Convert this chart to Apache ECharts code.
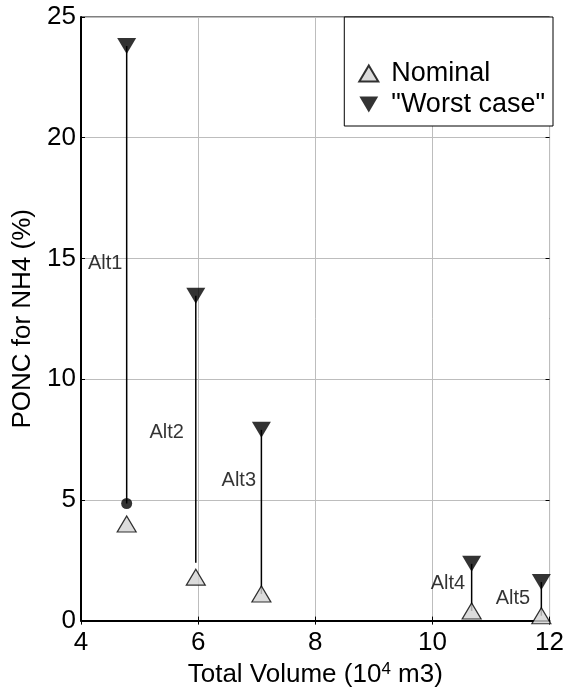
<!DOCTYPE html>
<html><head><meta charset="utf-8">
<script src="https://cdn.jsdelivr.net/npm/echarts@6/dist/echarts.min.js"></script>
<style>html,body{margin:0;padding:0;background:#fff}#c{width:567px;height:693px}</style>
</head><body><div id="c"></div>
<script>
const alts = ['Alt1','Alt2','Alt3','Alt4','Alt5'];
const volume = [4.78, 5.96, 7.08, 10.67, 11.86];
const nominal = [4.0, 1.8, 1.1, 0.4, 0.2];
const worstCase = [23.8, 13.45, 7.9, 2.35, 1.6];
const lineBottom = [4.85, 2.4, 1.1, 0.4, 0.2];
const dotPoint = [[4.78, 4.85]];
const labelX = [4.12, 5.17, 6.40, 9.97, 11.08];
const labelY = [14.8, 7.8, 5.8, 1.55, 0.9];
const xTicks = [4, 6, 8, 10, 12];
const yTicks = [0, 5, 10, 15, 20, 25];

const font = 'Liberation Sans, Arial, Helvetica, sans-serif';
const chart = echarts.init(document.getElementById('c'));
const invTri = 'path://M0,0 L20,0 L10,17 Z';

chart.setOption({
  animation: false,
  backgroundColor: '#fff',
  textStyle: { fontFamily: font },
  grid: { left: 81, right: 16, top: 17, bottom: 72, show: true, borderColor: '#000', borderWidth: 1, backgroundColor: 'transparent' },
  legend: {
    right: 14, top: 17, orient: 'vertical',
    backgroundColor: '#fff', borderColor: '#000', borderWidth: 1,
    padding: [43, 8, 8, 14], itemGap: 4, itemWidth: 19, itemHeight: 16,
    textStyle: { fontSize: 27, lineHeight: 27, color: '#000', fontFamily: font, padding: [0, 0, 0, 8] },
    data: [
      { name: 'Nominal', icon: 'triangle' },
      { name: '"Worst case"', icon: invTri }
    ]
  },
  xAxis: [{
    type: 'value', min: xTicks[0], max: xTicks[xTicks.length-1], interval: 2,
    name: 'Total Volume (10{sup|4} m3)', nameLocation: 'middle', nameGap: 38,
    nameTextStyle: { fontSize: 26, color: '#000', fontFamily: font, rich: { sup: { fontSize: 17, verticalAlign: 'top', padding: [0,0,12,0], color: '#000', fontFamily: font } } },
    axisLine: { show: true, onZero: false, lineStyle: { color: '#000', width: 2 } },
    axisTick: { show: true, inside: true, length: 4, lineStyle: { color: '#000' } },
    axisLabel: { fontSize: 26, color: '#000', margin: 9, fontFamily: font },
    splitLine: { show: true, lineStyle: { color: '#bdbdbd', width: 1 } }
  }, {
    type: 'value', position: 'top', min: 4, max: 12, interval: 2,
    axisLine: { show: false }, axisTick: { show: true, inside: true, length: 4, lineStyle: { color: '#000' } },
    axisLabel: { show: false }, splitLine: { show: false }
  }],
  yAxis: [{
    type: 'value', min: yTicks[0], max: yTicks[yTicks.length-1], interval: 5,
    name: 'PONC for NH4 (%)', nameLocation: 'middle', nameGap: 40,
    nameTextStyle: { fontSize: 26, color: '#000', fontFamily: font },
    axisLine: { show: true, onZero: false, lineStyle: { color: '#000', width: 2 } },
    axisTick: { show: true, inside: true, length: 4, lineStyle: { color: '#000' } },
    axisLabel: { fontSize: 26, color: '#000', margin: 5, fontFamily: font },
    splitLine: { show: true, lineStyle: { color: '#bdbdbd', width: 1 } }
  }, {
    type: 'value', position: 'right', min: 0, max: 25, interval: 5,
    axisLine: { show: false }, axisTick: { show: true, inside: true, length: 4, lineStyle: { color: '#000' } },
    axisLabel: { show: false }, splitLine: { show: false }
  }],
  series: [
    {
      type: 'custom', name: 'stems', silent: true, z: 2,
      data: volume.map((v, i) => [v, worstCase[i], lineBottom[i]]),
      renderItem: function (params, api) {
        const p1 = api.coord([api.value(0), api.value(1)]);
        const p2 = api.coord([api.value(0), api.value(2)]);
        return { type: 'line', shape: { x1: p1[0], y1: p1[1], x2: p2[0], y2: p2[1] }, style: { stroke: '#000', lineWidth: 1.5 } };
      }
    },
    {
      type: 'scatter', name: 'dot', z: 4, symbol: 'circle', symbolSize: 11,
      itemStyle: { color: '#000' }, data: dotPoint
    },
    {
      type: 'scatter', name: 'Nominal', z: 5, symbol: 'triangle', symbolSize: [19, 16],
      itemStyle: { color: '#d3d3d3', borderColor: '#000', borderWidth: 1.2 },
      data: volume.map((v, i) => [v, nominal[i]])
    },
    {
      type: 'scatter', name: '"Worst case"', z: 5, symbol: invTri, symbolSize: [19, 16],
      itemStyle: { color: '#000' },
      data: volume.map((v, i) => [v, worstCase[i]])
    },
    {
      type: 'scatter', name: 'labels', z: 6, symbolSize: 0, silent: true,
      data: alts.map((a, i) => ({ value: [labelX[i], labelY[i]], name: a })),
      label: { show: true, position: 'right', distance: 0, formatter: '{b}', fontSize: 20, color: '#000', fontFamily: font }
    }
  ]
});
</script></body></html>
